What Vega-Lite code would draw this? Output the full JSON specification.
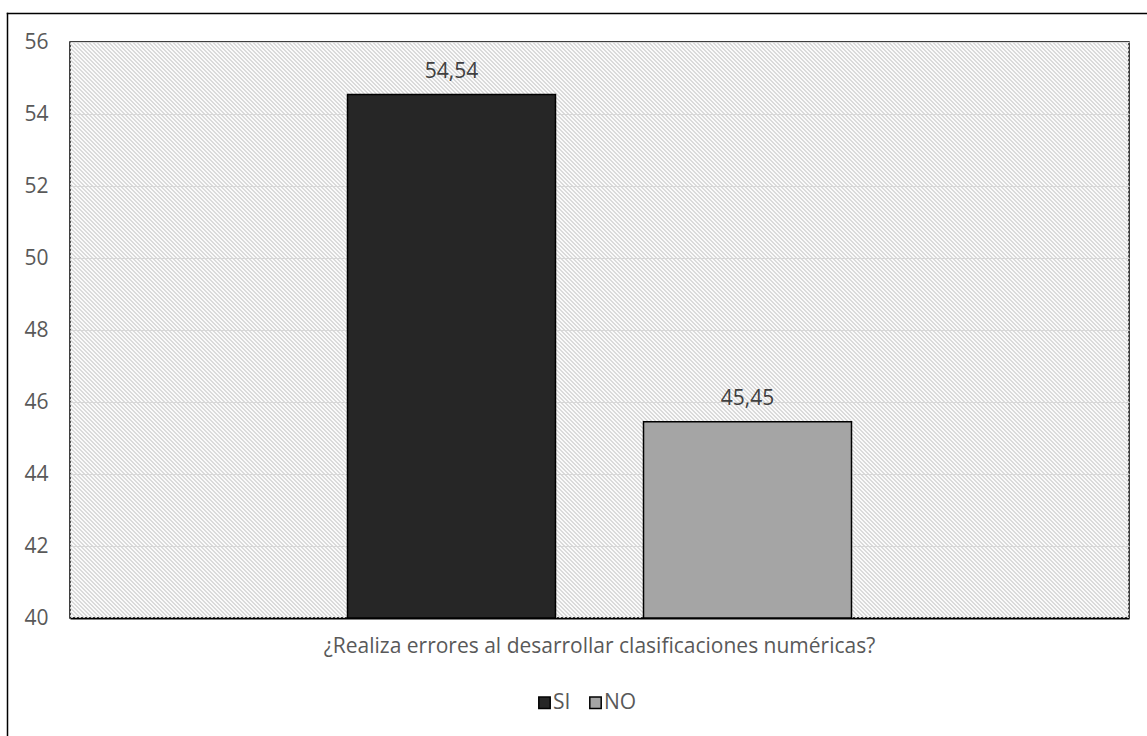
{
  "$schema": "https://vega.github.io/schema/vega-lite/v6.json",
  "autosize": {"type": "none"},
  "width": 1059,
  "height": 576,
  "padding": {"left": 70, "top": 42, "right": 18, "bottom": 118},
  "background": "#ffffff",
  "data": {
    "values": [
      {"pregunta": "¿Realiza errores al desarrollar clasificaciones numéricas?", "serie": "SI", "porcentaje": 54.54},
      {"pregunta": "¿Realiza errores al desarrollar clasificaciones numéricas?", "serie": "NO", "porcentaje": 45.45}
    ]
  },
  "config": {
    "font": "Open Sans",
    "locale": {
      "number": {"decimal": ",", "thousands": ".", "grouping": [3], "currency": ["", " €"]}
    },
    "view": {"stroke": "#000000", "strokeWidth": 1.5},
    "axis": {
      "labelFont": "Open Sans",
      "labelFontSize": 21,
      "labelColor": "#595959",
      "ticks": false,
      "tickSize": 0,
      "title": null
    }
  },
  "layer": [
    {
      "layer": [
        {
          "transform": [{"filter": "datum.serie === 'SI'"}],
          "mark": {
            "type": "point",
            "shape": "M-420,420L420,-420",
            "size": 4,
            "filled": false,
            "stroke": "#d6d6d6",
            "strokeWidth": 1200,
            "strokeDash": [1.4142, 1.4142],
            "strokeCap": "butt",
            "opacity": 1,
            "clip": true
          },
          "encoding": {
            "x": {"field": "pregunta", "type": "nominal"},
            "y": {"datum": 48, "type": "quantitative"}
          }
        },
        {
          "mark": {"type": "bar", "stroke": "#000000", "strokeWidth": 1.5, "opacity": 1},
          "encoding": {
            "x": {
              "field": "pregunta",
              "type": "nominal",
              "scale": {"paddingOuter": 0.5506, "paddingInner": 0},
              "axis": {
                "orient": "bottom",
                "labelAngle": 0,
                "labelAlign": "center",
                "labelFontSize": 21,
                "labelPadding": 28,
                "labelLimit": 1000,
                "domain": true,
                "domainColor": "#000000",
                "domainWidth": 2,
                "grid": false
              }
            },
            "xOffset": {
              "field": "serie",
              "type": "nominal",
              "sort": ["SI", "NO"],
              "scale": {"paddingInner": 0.2973, "paddingOuter": 0}
            },
            "y": {
              "field": "porcentaje",
              "type": "quantitative",
              "scale": {"domain": [40, 56], "nice": false, "zero": false},
              "axis": {
                "values": [40, 42, 44, 46, 48, 50, 52, 54, 56],
                "grid": true,
                "gridColor": "#d9d9d9",
                "gridWidth": 1,
                "domain": false,
                "labelPadding": 22
              }
            },
            "y2": {"datum": 40},
            "color": {
              "field": "serie",
              "type": "nominal",
              "sort": ["SI", "NO"],
              "scale": {"domain": ["SI", "NO"], "range": ["#262626", "#a5a5a5"]},
              "legend": {
                "orient": "none",
                "legendX": 464,
                "legendY": 650,
                "direction": "horizontal",
                "title": null,
                "padding": 0,
                "symbolType": "square",
                "symbolSize": 130,
                "symbolStrokeColor": "#000000",
                "symbolStrokeWidth": 1.5,
                "symbolOpacity": 1,
                "labelFont": "Open Sans",
                "labelFontSize": 21,
                "labelColor": "#595959",
                "labelOffset": -2,
                "columnPadding": 14
              }
            }
          }
        },
        {
          "mark": {"type": "text", "baseline": "middle", "dy": -23, "fontSize": 21, "color": "#404040", "font": "Open Sans"},
          "encoding": {
            "x": {"field": "pregunta", "type": "nominal"},
            "xOffset": {"field": "serie", "type": "nominal", "sort": ["SI", "NO"]},
            "y": {"field": "porcentaje", "type": "quantitative"},
            "text": {"field": "porcentaje", "type": "quantitative", "format": ".2f"}
          }
        }
      ]
    },
    {
      "transform": [{"filter": "datum.serie === 'SI'"}],
      "mark": {"type": "point", "opacity": 0, "size": 0},
      "encoding": {
        "x": {
          "datum": 0,
          "type": "quantitative",
          "scale": {"domain": [0, 1], "range": [-63, 1077]},
          "axis": {
            "orient": "top",
            "offset": 29,
            "domain": true,
            "domainColor": "#000000",
            "domainWidth": 1.5,
            "domainCap": "square",
            "labels": false,
            "grid": false
          }
        },
        "y": {
          "datum": 0,
          "type": "quantitative",
          "scale": {"domain": [0, 1], "range": [694, -29]},
          "axis": {
            "orient": "left",
            "offset": 63,
            "domain": true,
            "domainColor": "#000000",
            "domainWidth": 1.5,
            "domainCap": "square",
            "labels": false,
            "grid": false
          }
        }
      }
    }
  ],
  "resolve": {"scale": {"x": "independent", "y": "independent"}}
}
